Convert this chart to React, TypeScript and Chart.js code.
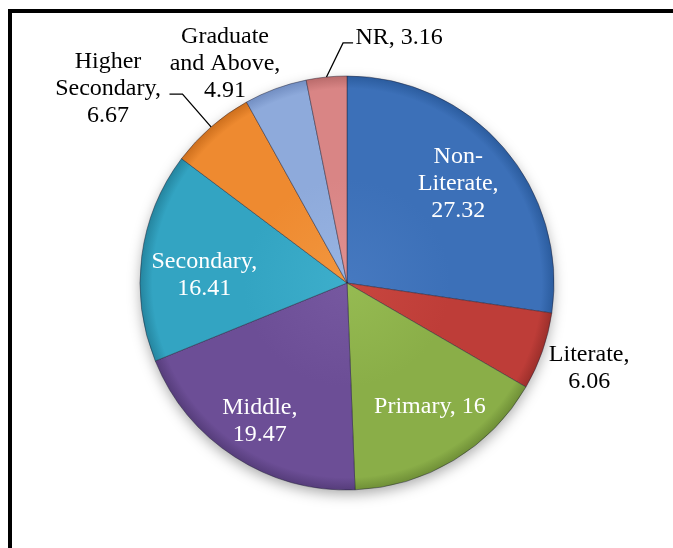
import React, { useEffect, useRef } from "react";
import { Chart, registerables } from "chart.js";

Chart.register(...registerables);

const categories = [
  "Non-Literate",
  "Literate",
  "Primary",
  "Middle",
  "Secondary",
  "Higher Secondary",
  "Graduate and Above",
  "NR",
];
const values = [27.32, 6.06, 16, 19.47, 16.41, 6.67, 4.91, 3.16];
// label text, "{v}" is replaced with the slice value
const labelWrap = [
  ["Non-", "Literate,", "{v}"],
  ["Literate,", "{v}"],
  ["Primary, {v}"],
  ["Middle,", "{v}"],
  ["Secondary,", "{v}"],
  ["Higher", "Secondary,", "{v}"],
  ["Graduate", "and Above,", "{v}"],
  ["NR, {v}"],
];

// styles
const fills = [
  ["#4679C0", "#3C70B8", "#2B5C9E"],
  ["#C8463F", "#BE3D38", "#9C2F2B"],
  ["#96BB52", "#8AAE48", "#6F8F37"],
  ["#7658A0", "#6C4E96", "#563D7B"],
  ["#3DAECB", "#33A4C2", "#25859F"],
  ["#F2963E", "#EE8A30", "#CD6F1D"],
  ["#98B4E2", "#8EAADB", "#728EC2"],
  ["#E09090", "#D98585", "#B96B6B"],
];
const textColors = ["#fff", "#000", "#fff", "#fff", "#fff", "#000", "#000", "#000"];
// label anchor: radius factor, angle offset (deg) from slice middle
const labelPos = [
  [0.72, -0.9],
  [1.24, 0.1],
  [0.72, -2.8],
  [0.79, -0.6],
  [0.69, -4.4],
  [1.487, -9.87],
  [1.211, -8.9],
  [1.21, 17.7],
];
// leader lines: [elbow radius factor, elbow angle offset, horizontal length]
const leaders: (number[] | null)[] = [null, null, null, null, null, [1.21, 0, -13], null, [1.16, 4.75, 10]];

const RADIUS = 207;
const FAMILY = "'Liberation Serif', 'Times New Roman', Times, serif";
const FONT = "24px " + FAMILY;
const LINE_H = 27;

const labelPlugin = {
  id: "sliceLabels",
  beforeDatasetsDraw(chart: any) {
    const { ctx, chartArea } = chart;
    const cx = (chartArea.left + chartArea.right) / 2;
    const cy = (chartArea.top + chartArea.bottom) / 2;
    ctx.save();
    ctx.shadowColor = "rgba(0,0,0,0.35)";
    ctx.shadowBlur = 14;
    ctx.shadowOffsetY = 5;
    ctx.fillStyle = "#fff";
    ctx.beginPath();
    ctx.arc(cx, cy, RADIUS - 1, 0, Math.PI * 2);
    ctx.fill();
    ctx.restore();
  },
  afterDatasetsDraw(chart: any) {
    const { ctx } = chart;
    const meta = chart.getDatasetMeta(0);
    ctx.save();
    ctx.font = FONT;
    ctx.textAlign = "center";
    ctx.textBaseline = "middle";
    meta.data.forEach((arc: any, i: number) => {
      const { x, y, startAngle, endAngle, outerRadius } = arc.getProps(
        ["x", "y", "startAngle", "endAngle", "outerRadius"],
        true
      );
      const mid = (startAngle + endAngle) / 2;
      const lines = labelWrap[i].map((s) => s.replace("{v}", String(values[i])));
      const [f, off] = labelPos[i];
      const a = mid + (off * Math.PI) / 180;
      const tx = x + Math.cos(a) * outerRadius * f;
      const ty = y + Math.sin(a) * outerRadius * f;
      ctx.fillStyle = textColors[i];
      const y0 = ty - ((lines.length - 1) * LINE_H) / 2;
      lines.forEach((ln, k) => ctx.fillText(ln, tx, y0 + k * LINE_H));
      const ld = leaders[i];
      if (ld) {
        const sx = x + Math.cos(mid) * outerRadius;
        const sy = y + Math.sin(mid) * outerRadius;
        const ea = mid + (ld[1] * Math.PI) / 180;
        const ex = x + Math.cos(ea) * outerRadius * ld[0];
        const ey = y + Math.sin(ea) * outerRadius * ld[0];
        ctx.strokeStyle = "#000";
        ctx.lineWidth = 1.3;
        ctx.beginPath();
        ctx.moveTo(sx, sy);
        ctx.lineTo(ex, ey);
        ctx.lineTo(ex + ld[2], ey);
        ctx.stroke();
      }
    });
    ctx.restore();
  },
};

export default function App() {
  const ref = useRef<HTMLCanvasElement | null>(null);
  useEffect(() => {
    if (!ref.current) return;
    const chart = new Chart(ref.current, {
      type: "pie",
      data: {
        labels: categories,
        datasets: [
          {
            data: values,
            radius: RADIUS,
            borderWidth: 1,
            borderColor: "rgba(30,30,50,0.45)",
            backgroundColor: (c: any) => {
              const i = c.dataIndex;
              const { chartArea, ctx } = c.chart;
              if (!chartArea || i === undefined) return fills[i ?? 0][1];
              const cx = (chartArea.left + chartArea.right) / 2;
              const cy = (chartArea.top + chartArea.bottom) / 2;
              const g = ctx.createRadialGradient(cx, cy, 0, cx, cy, RADIUS);
              g.addColorStop(0, fills[i][0]);
              g.addColorStop(0.5, fills[i][1]);
              g.addColorStop(0.94, fills[i][1]);
              g.addColorStop(1, fills[i][2]);
              return g;
            },
          } as any,
        ],
      },
      options: {
        animation: false,
        responsive: false,
        devicePixelRatio: 1,
        layout: { padding: { left: 31, right: 10, top: 28, bottom: 10 } },
        plugins: { legend: { display: false }, tooltip: { enabled: false } },
      },
      plugins: [labelPlugin],
    });
    return () => chart.destroy();
  }, []);

  return (
    <div
      style={{
        position: "fixed",
        left: 0,
        top: 0,
        width: 673,
        height: 548,
        overflow: "hidden",
        background: "#fff",
      }}
    >
      <div
        style={{
          position: "absolute",
          left: 8,
          top: 9,
          width: 720,
          height: 620,
          border: "4px solid #000",
        }}
      />
      <canvas
        ref={ref}
        width={673}
        height={548}
        style={{ position: "absolute", left: 0, top: 0, width: 673, height: 548 }}
      />
    </div>
  );
}
